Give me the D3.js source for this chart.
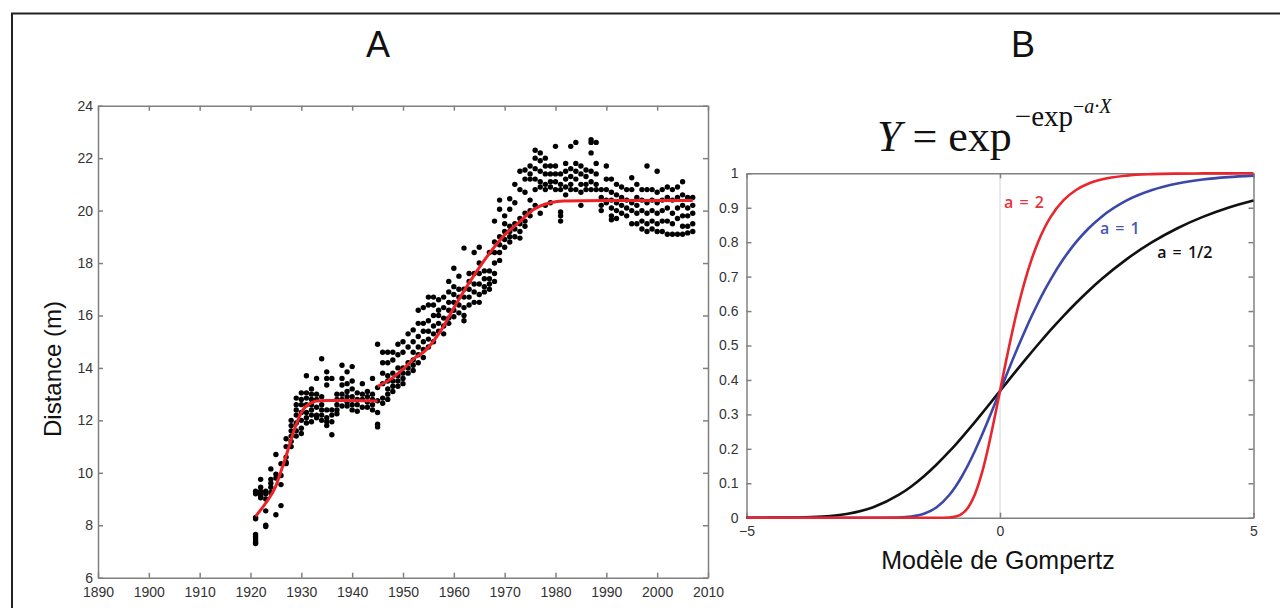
<!DOCTYPE html>
<html>
<head>
<meta charset="utf-8">
<script src="https://cdn.jsdelivr.net/npm/d3@7"></script>
<style>
  body { margin: 0; background: #fff; }
  svg { display: block; }
  .axis .domain, .axis line { stroke: #808080; stroke-width: 1.5; }
  .axis text { font-family: "Liberation Sans Narrow", "Liberation Sans", Arial, sans-serif; font-size: 14px; fill: #333; }
</style>
</head>
<body>
<div id="chart"></div>
<script>
// ---------------------------------------
// Panel A: measured distances per year
const scatterYears = [1921, 1922, 1923, 1924, 1925, 1926, 1927, 1928, 1929, 1930,
  1931, 1932, 1933, 1934, 1935, 1936, 1937, 1938, 1939, 1940,
  1941, 1942, 1943, 1944, 1945, 1946, 1947, 1948, 1949, 1950,
  1951, 1952, 1953, 1954, 1955, 1956, 1957, 1958, 1959, 1960,
  1961, 1962, 1963, 1964, 1965, 1966, 1967, 1968, 1969, 1970,
  1971, 1972, 1973, 1974, 1975, 1976, 1977, 1978, 1979, 1980,
  1981, 1982, 1983, 1984, 1985, 1986, 1987, 1988, 1989, 1990,
  1991, 1992, 1993, 1994, 1995, 1996, 1997, 1998, 1999, 2000,
  2001, 2002, 2003, 2004, 2005, 2006, 2007];

const scatterDistances = [
  [9.3, 9.2, 8.3, 8.25, 7.65, 7.55, 7.45, 7.35, 7.3],
  [9.75, 9.45, 9.3, 9.2, 9.1, 9.05],
  [9.3, 9.2, 9.0, 8.55, 8.0, 7.95],
  [10.15, 9.75, 9.6, 9.45, 9.25],
  [10.7, 9.95, 9.8, 8.4],
  [10.35, 9.9, 9.55, 8.75],
  [11.3, 11.0, 10.6, 10.4, 10.35],
  [12.0, 11.8, 11.6, 11.4, 11.2, 11.0],
  [12.85, 12.6, 12.4, 12.2, 11.9, 11.6, 11.4],
  [13.05, 12.8, 12.6, 12.3, 12.0, 11.7, 11.5],
  [13.7, 13.05, 12.85, 12.6, 12.3, 12.1, 11.9],
  [13.2, 13.0, 12.8, 12.6, 12.4, 12.2, 11.95],
  [13.6, 13.0, 12.8, 12.5, 12.2, 12.1],
  [14.35, 12.9, 12.6, 12.4, 12.2, 12.0],
  [13.85, 13.6, 13.35, 12.4, 12.1, 11.95, 11.8],
  [13.6, 12.4, 12.2, 11.95, 11.45],
  [13.0, 12.8, 12.6, 12.4, 12.25],
  [14.1, 13.6, 13.35, 13.0, 12.8, 12.55],
  [13.85, 13.4, 13.1, 12.9, 12.7, 12.55],
  [14.05, 13.5, 13.2, 12.9, 12.6, 12.4],
  [13.05, 12.8, 12.6, 12.35],
  [13.4, 13.0, 12.8, 12.5],
  [13.1, 12.9, 12.7, 12.5],
  [13.6, 13.0, 12.8, 12.6, 12.4],
  [14.9, 13.25, 12.75, 12.3, 11.85, 11.75],
  [14.6, 14.2, 13.8, 13.4, 12.85, 12.65],
  [14.6, 14.2, 13.7, 13.5, 13.2, 13.0, 12.8],
  [14.6, 14.3, 13.8, 13.5, 13.3, 13.1],
  [14.9, 14.5, 14.0, 13.7, 13.5, 13.3],
  [15.0, 14.6, 14.0, 13.8, 13.6, 13.4],
  [15.3, 14.8, 14.2, 14.0, 13.8],
  [15.45, 15.0, 14.6, 14.3, 14.1, 13.9],
  [16.2, 15.7, 15.2, 14.8, 14.5, 14.2],
  [16.3, 15.7, 15.4, 15.0, 14.7, 14.4],
  [16.7, 16.4, 15.8, 15.4, 15.1, 14.8],
  [16.7, 16.4, 16.0, 15.6, 15.3, 15.0],
  [16.6, 16.2, 16.0, 15.7, 15.4],
  [16.7, 16.3, 15.9, 15.6, 15.3],
  [17.3, 16.9, 16.5, 16.2, 15.9, 15.7],
  [17.8, 17.1, 16.8, 16.5, 16.2, 15.95],
  [17.5, 17.0, 16.7, 16.4, 16.1],
  [18.57, 17.0, 16.7, 16.3, 16.0, 15.8],
  [17.6, 17.3, 17.0, 16.7, 16.4],
  [18.4, 17.6, 17.2, 16.9, 16.5],
  [18.6, 18.0, 17.6, 17.2, 16.8, 16.5],
  [17.7, 17.4, 17.1, 16.9],
  [18.4, 17.7, 17.4, 17.2, 17.0],
  [19.6, 18.8, 18.4, 18.0, 17.6, 17.3],
  [20.4, 20.05, 19.0, 18.7, 18.4, 18.1],
  [19.8, 19.5, 19.2, 18.9, 18.6],
  [20.45, 20.05, 19.4, 19.2, 19.0, 18.8],
  [21.0, 20.3, 19.5, 19.3, 19.0],
  [21.5, 20.8, 19.7, 19.5, 19.2, 18.95],
  [21.55, 21.2, 20.7, 19.9, 19.6, 19.4],
  [21.7, 21.4, 21.2, 20.4, 20.0, 19.8],
  [22.3, 22.0, 21.6, 21.2, 20.8, 20.2],
  [22.2, 21.9, 21.5, 21.1, 20.9, 19.9],
  [22.0, 21.7, 21.4, 21.0, 20.8, 20.2],
  [21.7, 21.4, 21.1, 20.9, 20.3],
  [22.45, 21.7, 21.4, 21.1, 20.8],
  [21.4, 21.0, 20.8, 19.95, 19.8, 19.6],
  [21.8, 21.5, 21.2, 20.9, 20.6],
  [22.45, 21.6, 21.3, 21.0, 20.8],
  [22.6, 21.8, 21.5, 21.2, 20.8],
  [21.7, 21.4, 21.0, 20.7, 20.2],
  [21.55, 21.3, 21.0, 20.8],
  [22.7, 22.6, 22.2, 21.5, 21.1, 20.8],
  [22.6, 21.8, 21.4, 21.0, 20.8],
  [20.8, 20.5, 20.2, 20.0],
  [21.7, 21.2, 20.8, 20.4, 20.3],
  [21.2, 20.7, 20.4, 20.1, 19.8, 19.65],
  [21.0, 20.6, 20.3, 20.0, 19.7],
  [20.9, 20.5, 20.2, 19.9],
  [20.8, 20.4, 20.1, 19.8],
  [21.25, 20.8, 20.3, 20.0, 19.5],
  [21.0, 20.5, 20.2, 19.9, 19.5],
  [20.8, 20.4, 20.0, 19.6, 19.3],
  [21.7, 20.8, 20.3, 19.9, 19.5, 19.2],
  [20.8, 20.4, 20.0, 19.6, 19.3],
  [21.5, 20.7, 20.3, 19.9, 19.5, 19.2],
  [20.8, 20.4, 20.0, 19.6, 19.2],
  [20.9, 20.5, 20.1, 19.6, 19.1],
  [20.8, 20.4, 19.9, 19.5, 19.1],
  [20.9, 20.5, 20.1, 19.7, 19.1],
  [21.1, 20.6, 20.2, 19.8, 19.4, 19.1],
  [20.5, 20.1, 19.8, 19.4, 19.15],
  [20.5, 20.2, 19.9, 19.5, 19.2]
];

// fitted curve, two pieces (break in 1945)
const fitYearsA = [1921, 1923, 1925, 1926, 1927, 1928, 1929, 1930, 1931, 1932, 1933, 1935, 1940, 1945];
const fitDistA = [8.34, 8.85, 9.5, 10.06, 10.64, 11.27, 11.85, 12.3, 12.55, 12.67, 12.74, 12.76, 12.76, 12.74];
const fitYearsB = [1945, 1948, 1950, 1952, 1954.5, 1957.5, 1960.5, 1963.8, 1967, 1970.3, 1973, 1975.6, 1979, 1981.5, 1990, 2007];
const fitDistB = [13.3, 13.63, 13.95, 14.33, 14.68, 15.44, 16.46, 17.48, 18.37, 19.13, 19.58, 20.03, 20.3, 20.37, 20.38, 20.38];

const yearTicks = [1890, 1900, 1910, 1920, 1930, 1940, 1950, 1960, 1970, 1980, 1990, 2000, 2010];
const distTicks = [6, 8, 10, 12, 14, 16, 18, 20, 22, 24];

// ---------------------------------------
// Panel B: Gompertz curves
const gompX = [-5, -4.5, -4, -3.5, -3, -2.5, -2, -1.75, -1.5, -1.25, -1, -0.875, -0.75, -0.625,
  -0.5, -0.375, -0.25, -0.125, 0, 0.125, 0.25, 0.375, 0.5, 0.625, 0.75, 0.875,
  1, 1.25, 1.5, 1.75, 2, 2.5, 3, 3.5, 4, 4.5, 5];
const gompA2 = [0, 0, 0, 0, 0, 0, 0, 0, 0, 0.00001, 0.0006, 0.0032, 0.0113, 0.0305,
  0.066, 0.1204, 0.1923, 0.2769, 0.3679, 0.459, 0.5452, 0.6235, 0.6922, 0.7509, 0.8, 0.8405,
  0.8734, 0.9212, 0.9514, 0.9703, 0.9819, 0.9933, 0.9975, 0.9991, 0.9997, 0.9999, 1];
const gompA1 = [0, 0, 0, 0, 0, 0.00001, 0.0006, 0.0032, 0.0113, 0.0305, 0.066, 0.0908, 0.1204, 0.1544,
  0.1923, 0.2334, 0.2769, 0.322, 0.3679, 0.4138, 0.459, 0.5029, 0.5452, 0.5855, 0.6235, 0.6591,
  0.6922, 0.7509, 0.8, 0.8405, 0.8734, 0.9212, 0.9514, 0.9703, 0.9819, 0.989, 0.9933];
const gompAHalf = [0.00001, 0.0001, 0.0006, 0.0032, 0.0113, 0.0305, 0.066, 0.0908, 0.1204, 0.1544, 0.1923, 0.2125, 0.2334, 0.2549,
  0.2769, 0.2993, 0.322, 0.3449, 0.3679, 0.3909, 0.4138, 0.4365, 0.459, 0.4812, 0.5029, 0.5243,
  0.5452, 0.5855, 0.6235, 0.6591, 0.6922, 0.7509, 0.8, 0.8405, 0.8734, 0.9, 0.9212];
const gompSeries = [
  {name: "a = 1/2", values: gompAHalf, color: "#111111", labelColor: "#111111", lx: 3.1, ly: 0.755},
  {name: "a = 1", values: gompA1, color: "#3b48a8", labelColor: "#4a58b5", lx: 1.97, ly: 0.825},
  {name: "a = 2", values: gompA2, color: "#e8262d", labelColor: "#e8343a", lx: 0.08, ly: 0.9}
];
const probTicks = [0, 0.1, 0.2, 0.3, 0.4, 0.5, 0.6, 0.7, 0.8, 0.9, 1];
const xTicksB = [-5, 0, 5];

const svg = d3.select("#chart")
    .append("svg")
    .attr("width", 1280)
    .attr("height", 608);

svg.append("rect")
    .attr("width", 1280)
    .attr("height", 608)
    .attr("fill", "#fff");

// outer frame (runs off the right and bottom edge)
svg.append("rect")
    .attr("x", 12)
    .attr("y", 13.5)
    .attr("width", 1300)
    .attr("height", 620)
    .attr("fill", "none")
    .attr("stroke", "#222")
    .attr("stroke-width", 2);

// panel letters
svg.append("text")
    .attr("x", 378)
    .attr("y", 57)
    .attr("text-anchor", "middle")
    .style("font-family", "Liberation Sans, Arial, sans-serif")
    .style("font-size", "36px")
    .style("fill", "#111")
    .text("A");
svg.append("text")
    .attr("x", 1023)
    .attr("y", 57)
    .attr("text-anchor", "middle")
    .style("font-family", "Liberation Sans, Arial, sans-serif")
    .style("font-size", "36px")
    .style("fill", "#111")
    .text("B");

// ---------------------------------------
// Panel A
const xA = d3.scaleLinear().domain([1890, 2010]).range([98, 708]);
const yA = d3.scaleLinear().domain([6, 24]).range([577.7, 105.7]);

const gA = svg.append("g");

gA.append("g")
    .attr("class", "axis")
    .attr("transform", "translate(0," + yA(6) + ")")
    .call(d3.axisBottom(xA).tickValues(yearTicks).tickFormat(d3.format("d"))
        .tickSizeInner(-5).tickSizeOuter(0).tickPadding(9));
gA.append("g")
    .attr("class", "axis")
    .attr("transform", "translate(0," + yA(24) + ")")
    .call(d3.axisTop(xA).tickValues(yearTicks).tickFormat("")
        .tickSizeInner(-5).tickSizeOuter(0));
gA.append("g")
    .attr("class", "axis")
    .attr("transform", "translate(" + xA(1890) + ",0)")
    .call(d3.axisLeft(yA).tickValues(distTicks)
        .tickSizeInner(-5).tickSizeOuter(0).tickPadding(5));
gA.append("g")
    .attr("class", "axis")
    .attr("transform", "translate(" + xA(2010) + ",0)")
    .call(d3.axisRight(yA).tickValues(distTicks).tickFormat("")
        .tickSizeInner(-5).tickSizeOuter(0));

const points = [];
scatterYears.forEach(function(yr, i) {
  scatterDistances[i].forEach(function(v) {
    points.push({year: yr, dist: v});
  });
});

gA.selectAll(".dot")
    .data(points)
    .enter()
    .append("circle")
    .attr("class", "dot")
    .attr("cx", (d) => xA(d.year))
    .attr("cy", (d) => yA(d.dist))
    .attr("r", 2.7)
    .attr("fill", "#000");

const fitLine = d3.line()
    .x((d) => xA(d[0]))
    .y((d) => yA(d[1]))
    .curve(d3.curveMonotoneX);

[[fitYearsA, fitDistA], [fitYearsB, fitDistB]].forEach(function(piece) {
  gA.append("path")
      .datum(piece[0].map((yr, i) => [yr, piece[1][i]]))
      .attr("d", fitLine)
      .attr("fill", "none")
      .attr("stroke", "#ee2226")
      .attr("stroke-width", 3);
});

svg.append("text")
    .attr("transform", "translate(61,369) rotate(-90)")
    .attr("text-anchor", "middle")
    .style("font-family", "Liberation Sans, Arial, sans-serif")
    .style("font-size", "24px")
    .style("fill", "#111")
    .text("Distance (m)");

// ---------------------------------------
// Panel B
const xB = d3.scaleLinear().domain([-5, 5]).range([746.5, 1253.5]);
const yB = d3.scaleLinear().domain([0, 1]).range([517.7, 173.3]);
const probFmt = (d) => (d === 0 || d === 1) ? d3.format("d")(d) : d3.format(".1f")(d);

const gB = svg.append("g");

// thin line at X = 0
gB.append("line")
    .attr("x1", xB(0))
    .attr("x2", xB(0))
    .attr("y1", yB(1))
    .attr("y2", yB(0))
    .attr("stroke", "#d4d4d4")
    .attr("stroke-width", 1);

gB.append("g")
    .attr("class", "axis")
    .attr("transform", "translate(0," + yB(0) + ")")
    .call(d3.axisBottom(xB).tickValues(xTicksB)
        .tickSizeInner(-5).tickSizeOuter(0).tickPadding(8));
gB.append("g")
    .attr("class", "axis")
    .attr("transform", "translate(0," + yB(1) + ")")
    .call(d3.axisTop(xB).tickValues(xTicksB).tickFormat("")
        .tickSizeInner(-5).tickSizeOuter(0));
gB.append("g")
    .attr("class", "axis")
    .attr("transform", "translate(" + xB(-5) + ",0)")
    .call(d3.axisLeft(yB).tickValues(probTicks).tickFormat(probFmt)
        .tickSizeInner(-5).tickSizeOuter(0).tickPadding(8));
gB.append("g")
    .attr("class", "axis")
    .attr("transform", "translate(" + xB(5) + ",0)")
    .call(d3.axisRight(yB).tickValues(probTicks).tickFormat("")
        .tickSizeInner(-5).tickSizeOuter(0));

const gompLine = d3.line()
    .x((d) => xB(d[0]))
    .y((d) => yB(d[1]))
    .curve(d3.curveMonotoneX);

gompSeries.forEach(function(s) {
  gB.append("path")
      .datum(gompX.map((x, i) => [x, s.values[i]]))
      .attr("d", gompLine)
      .attr("fill", "none")
      .attr("stroke", s.color)
      .attr("stroke-width", 2.6);
  gB.append("text")
      .attr("x", xB(s.lx))
      .attr("y", yB(s.ly))
      .style("font-family", "Open Sans, Liberation Sans, Arial, sans-serif")
      .style("font-size", "16px")
      .style("font-weight", "600")
      .style("word-spacing", "2px")
      .style("fill", s.labelColor)
      .text(s.name);
});

// formula Y = exp^(-exp^(-a.X))
const formula = svg.append("text")
    .attr("x", 877)
    .attr("y", 151)
    .style("font-family", "Liberation Serif, Times New Roman, serif")
    .style("font-size", "44px")
    .style("fill", "#111");
formula.append("tspan").style("font-style", "italic").text("Y");
formula.append("tspan").text(" = exp");
formula.append("tspan")
    .attr("dx", 3)
    .attr("dy", -25)
    .style("font-size", "29px")
    .text("\u2212exp");
formula.append("tspan")
    .attr("dy", -13)
    .style("font-size", "20px")
    .text("\u2212");
formula.append("tspan")
    .style("font-size", "20px")
    .style("font-style", "italic")
    .text("a\u00b7X");

svg.append("text")
    .attr("x", 998)
    .attr("y", 569)
    .attr("text-anchor", "middle")
    .style("font-family", "Liberation Sans, Arial, sans-serif")
    .style("font-size", "25px")
    .style("fill", "#111")
    .text("Modèle de Gompertz");
</script>
</body>
</html>
